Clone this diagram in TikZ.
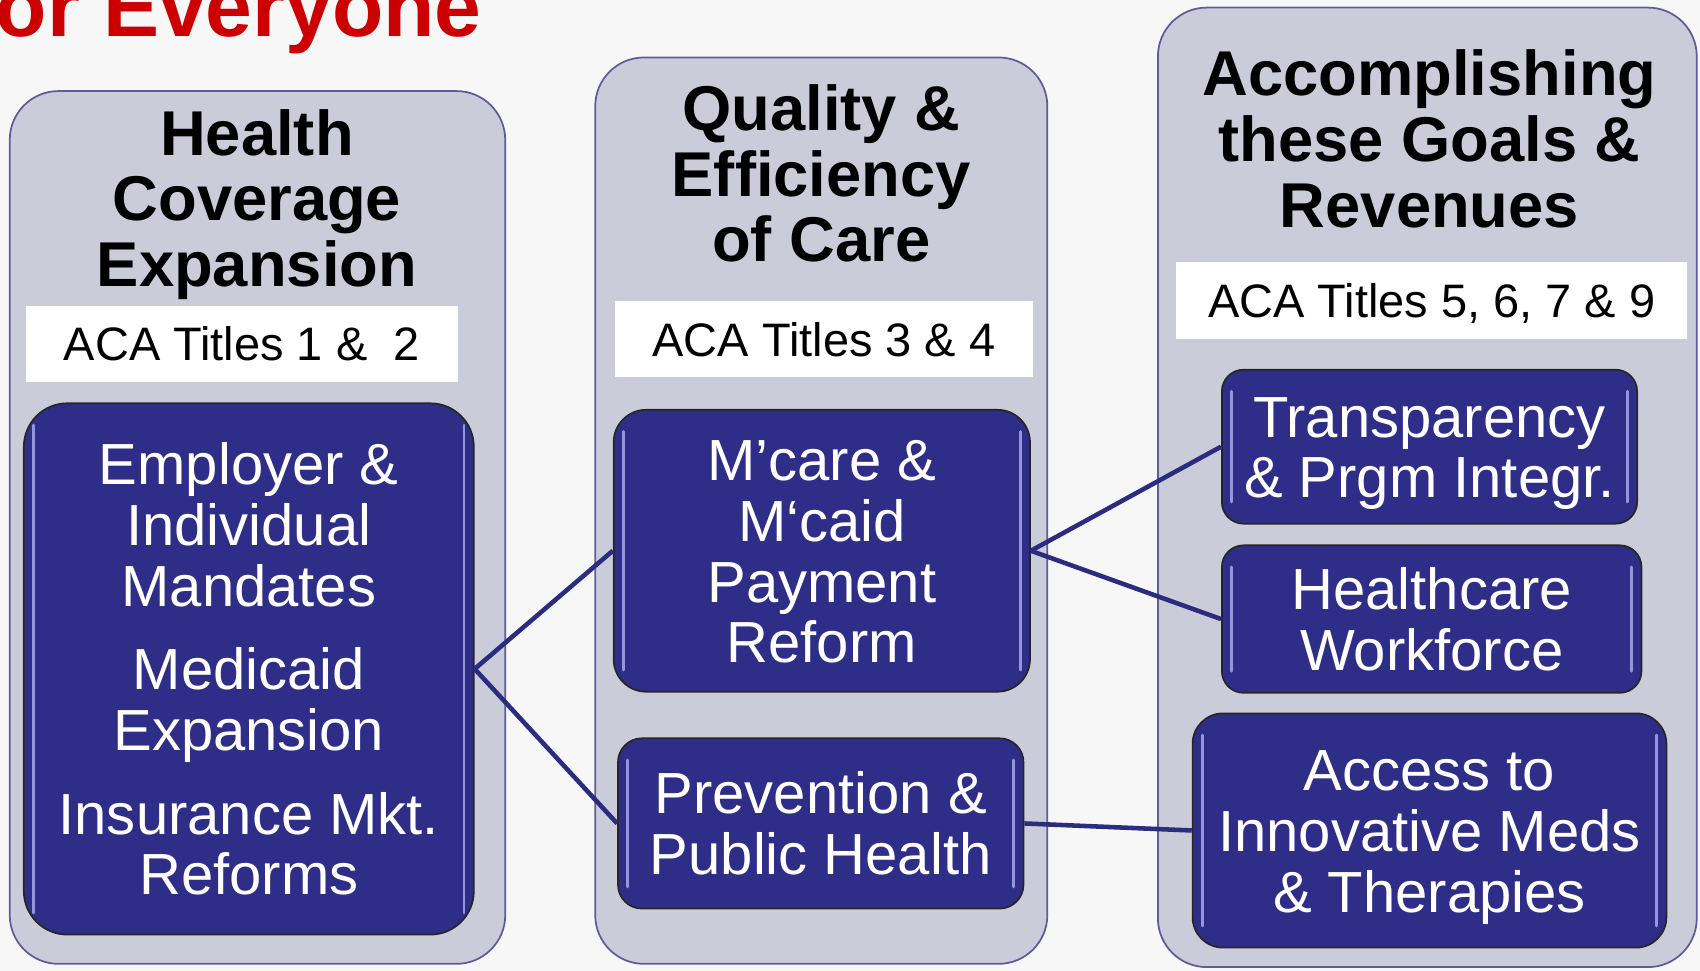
\documentclass[tikz,border=0pt]{standalone}
\usepackage{fontspec}
\setmainfont{Liberation Sans}
\definecolor{bgc}{HTML}{F7F7F7}
\definecolor{colfill}{HTML}{CBCCDA}
\definecolor{colborder}{HTML}{5C5C9C}
\definecolor{navy}{HTML}{2E2E88}
\definecolor{connc}{HTML}{2B2B80}
\definecolor{hlc}{HTML}{A8A8EE}
\definecolor{titlered}{HTML}{CC0000}
\newcommand{\tstr}{\rule{0pt}{0.93em}}
\newcommand{\bstr}{\rule[-0.21em]{0pt}{0.21em}}
\tikzset{
  column/.style={draw=colborder, line width=1.6pt, fill=colfill, rounded corners=45pt, inner sep=0pt},
  whitebox/.style={fill=white, inner sep=0pt, font=\fontsize{43.3}{45}\selectfont},
  heading/.style={align=center, inner sep=0pt, font=\fontsize{58.4}{60.5}\selectfont\bfseries},
  hl/.style={draw=hlc, line width=2.6pt, line cap=round, opacity=0.85},
  darkbox/.style={draw=black!85, line width=1.6pt, fill=navy, text=white, align=center, inner sep=0pt,
    font=\fontsize{53.5}{56}\selectfont,
    path picture={
      \draw[hl] ([xshift=9pt,yshift=-20pt]path picture bounding box.north west) -- ([xshift=9pt,yshift=20pt]path picture bounding box.south west);
      \draw[hl] ([xshift=-9pt,yshift=-20pt]path picture bounding box.north east) -- ([xshift=-9pt,yshift=20pt]path picture bounding box.south east);
    }},
  conn/.style={draw=connc, line width=4.2pt},
  titletext/.style={text=titlered, inner sep=0pt, font=\fontsize{77.5}{80}\selectfont\bfseries}
}
\begin{document}
\begin{tikzpicture}[x=1pt, y=-1pt]
\useasboundingbox (0,0) rectangle (1568,895.6);
\fill[bgc] (0,0) rectangle (1568,895.6);

% title (cut off at the top)
\node[titletext, anchor=base west] (ttl) at (-4,34) {or Everyone};

% columns
\node[column, minimum width=457pt, minimum height=805pt] (col1) at (237.5,486.5) {};
\node[column, minimum width=417pt, minimum height=836pt] (col2) at (757.5,471) {};
\node[column, minimum width=497pt, minimum height=885pt] (col3) at (1316.5,449.5) {};

% headings
\node[heading] (h1) at (237,182.5) {\tstr Health\\Coverage\\Expansion\bstr};
\node[heading] (h2) at (757.5,160) {\tstr Quality \&\\Efficiency\\of Care\bstr};
\node[heading] (h3) at (1318.5,128) {\tstr Accomplishing\\these Goals \&\\Revenues\bstr};

% white title boxes
\node[whitebox, minimum width=398pt, minimum height=70pt] (w1) at (223,317) {\tstr ACA Titles 1 \&\ \ 2\bstr\hspace{22pt}};
\node[whitebox, minimum width=386pt, minimum height=70pt] (w2) at (760,313) {\tstr ACA Titles 3 \& 4\bstr\hspace{21pt}};
\node[whitebox, minimum width=471pt, minimum height=71pt] (w3) at (1320.5,277.5) {\tstr ACA Titles 5, 6, 7 \& 9\bstr};

% dark boxes
\node[darkbox, rounded corners=40pt, minimum width=415pt, minimum height=490pt] (A) at (229.5,617)
  {\tstr Employer \&\\Individual\\Mandates\\[21pt]Medicaid\\Expansion\\[21pt]Insurance Mkt.\\Reforms\bstr};
\node[darkbox, rounded corners=30pt, minimum width=384pt, minimum height=260pt] (B) at (758,508)
  {\tstr M’care \&\\M‘caid\\Payment\\Reform\bstr};
\node[darkbox, rounded corners=22pt, minimum width=374pt, minimum height=157pt] (C) at (757,759.5)
  {\tstr Prevention \&\\Public Health\bstr};
\node[darkbox, rounded corners=20pt, minimum width=383pt, minimum height=142pt] (D) at (1318.5,412)
  {\tstr Transparency\\\& Prgm Integr.\bstr};
\node[darkbox, rounded corners=20pt, minimum width=387pt, minimum height=136pt] (E) at (1320.5,571)
  {\tstr Healthcare\\Workforce\bstr};
\node[darkbox, rounded corners=28pt, minimum width=437pt, minimum height=216pt] (F) at (1318.5,766)
  {\tstr Access to\\Innovative Meds\\\& Therapies\bstr};

% connectors
\draw[conn] (A.east) -- (B.west);
\draw[conn] (A.east) -- (C.west);
\draw[conn] (B.east) -- (D.west);
\draw[conn] (B.east) -- (E.west);
\draw[conn] (C.east) -- (F.west);
\end{tikzpicture}
\end{document}
